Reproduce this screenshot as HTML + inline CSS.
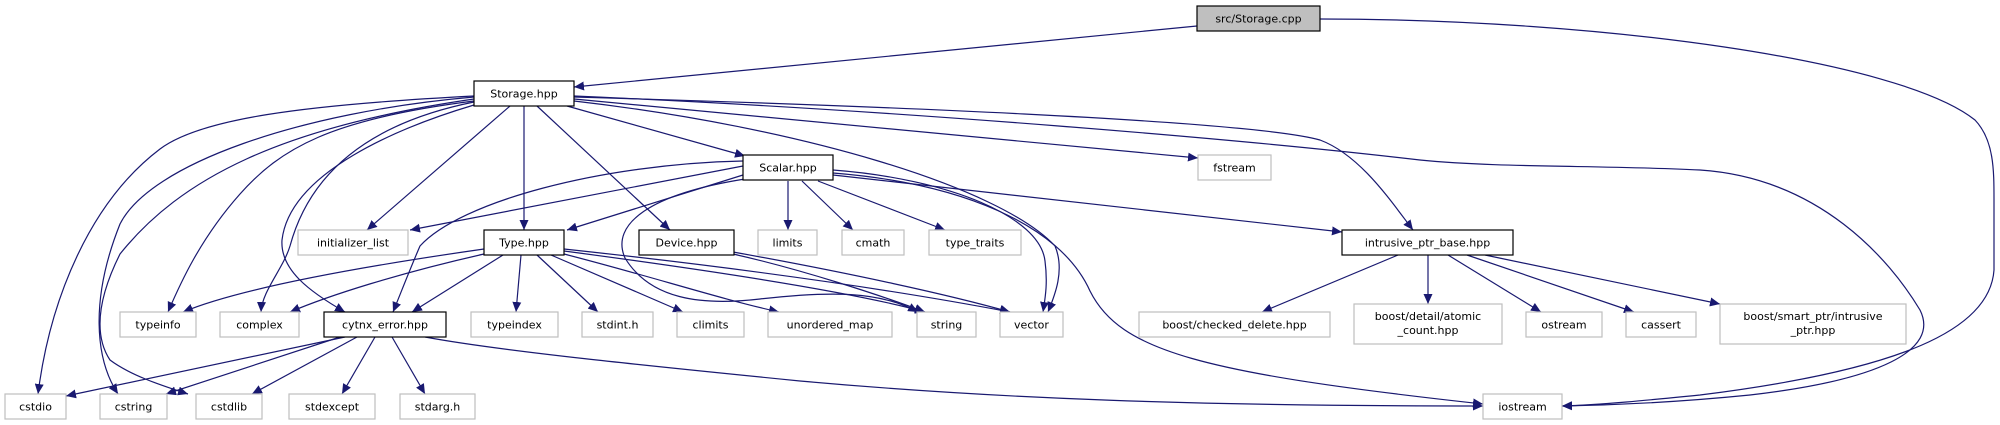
<!DOCTYPE html>
<html><head><meta charset="utf-8"><style>
html,body{margin:0;padding:0;background:#fff;width:2000px;height:425px;overflow:hidden}
svg{display:block}
text{font-family:"DejaVu Sans","Liberation Sans",sans-serif;font-size:11px;fill:#000}
.e{fill:none;stroke:#191970;stroke-width:1.2}
.g{fill:#fff;stroke:#bfbfbf;stroke-width:1.2}
.b{fill:#fff;stroke:#000;stroke-width:1.2}
</style></head><body>
<svg width="2000" height="425" viewBox="0 0 2000 425" xmlns="http://www.w3.org/2000/svg">
<defs><marker id="a" markerUnits="userSpaceOnUse" markerWidth="11" markerHeight="9" refX="10" refY="4.5" orient="auto"><path d="M0,0 L10,4.5 L0,9 z" fill="#191970"/></marker></defs>
<g marker-end="url(#a)">
<path class="e" d="M1197,26 L574,87"/>
<path class="e" d="M1320,19 C1600,19 1900,60 1975,120 C1994,140 1994,170 1994,200 L1994,270 C1990,330 1900,370 1700,395 C1650,400 1600,405 1562,406"/>
<path class="e" d="M574,96 C900,110 1250,140 1420,160 C1500,168 1600,165 1700,170 C1820,178 1890,260 1920,310 C1940,350 1880,380 1750,395 C1680,402 1620,405 1562,406"/>
<path class="e" d="M574,97 C850,105 1250,120 1320,140 C1360,155 1390,200 1413,230"/>
<path class="e" d="M574,99 L1198,158"/>
<path class="e" d="M574,101 C800,127 1000,187 1055,246 C1065,270 1055,295 1048,312"/>
<path class="e" d="M567,106 L745,156"/>
<path class="e" d="M537,106 L670,230"/>
<path class="e" d="M524,106 L524,230"/>
<path class="e" d="M510,106 L367,230"/>
<path class="e" d="M474,105 C400,127 290,172 282,240 C280,270 310,292 345,312"/>
<path class="e" d="M474,102 C330,131 300,209 290,246 C283,269 262,291 261,312"/>
<path class="e" d="M474,101 C330,119 280,149 240,194 C200,239 180,284 168,312"/>
<path class="e" d="M474,99 C280,127 180,179 120,254 C90,314 100,345 110,360 C130,375 160,385 188,394"/>
<path class="e" d="M474,97 C300,112 150,164 120,224 C90,299 95,359 118,394"/>
<path class="e" d="M474,96 C300,105 200,119 160,149 C90,202 50,299 38,394"/>
<path class="e" d="M743,166 L410,230"/>
<path class="e" d="M743,175 L567,230"/>
<path class="e" d="M743,161 C600,164 460,202 420,246 C410,269 400,295 393,312"/>
<path class="e" d="M745,179 C650,194 610,224 625,258 C650,299 700,306 760,299 C830,291 880,291 918,312"/>
<path class="e" d="M788,181 L788,230"/>
<path class="e" d="M802,181 L853,230"/>
<path class="e" d="M818,181 L945,230"/>
<path class="e" d="M833,175 L1342,232"/>
<path class="e" d="M833,170 C950,179 1040,217 1045,261 C1048,284 1045,299 1043,312"/>
<path class="e" d="M833,173 C960,183 1060,224 1090,291 C1120,351 1200,373 1483,404"/>
<path class="e" d="M425,337 C500,351 650,366 800,381 C1000,399 1200,406 1483,406"/>
<path class="e" d="M484,249 C400,261 250,284 183,312"/>
<path class="e" d="M484,254 C400,273 330,295 290,312"/>
<path class="e" d="M503,255 L412,312"/>
<path class="e" d="M521,255 L516,312"/>
<path class="e" d="M537,255 L598,312"/>
<path class="e" d="M551,255 L683,312"/>
<path class="e" d="M564,254 C650,276 720,299 779,312"/>
<path class="e" d="M564,251 C700,269 850,291 925,312"/>
<path class="e" d="M564,249 C750,269 900,291 1010,312"/>
<path class="e" d="M733,254 C800,269 880,295 925,312"/>
<path class="e" d="M733,252 C850,273 950,295 1010,312"/>
<path class="e" d="M345,337 L66,396"/>
<path class="e" d="M340,337 L166,394"/>
<path class="e" d="M357,337 L252,394"/>
<path class="e" d="M375,337 L342,394"/>
<path class="e" d="M392,337 L425,394"/>
<path class="e" d="M1398,255 L1262,312"/>
<path class="e" d="M1428,255 L1428,304"/>
<path class="e" d="M1448,255 L1541,312"/>
<path class="e" d="M1467,255 L1634,312"/>
<path class="e" d="M1485,255 L1720,304"/>
</g>
<g text-anchor="middle">
<rect x="1197" y="6" width="123" height="25" fill="#bfbfbf" stroke="#000" stroke-width="1.2"/><text x="1258.5" y="22.5">src/Storage.cpp</text>
<rect class="b" x="474" y="81" width="100" height="25"/><text x="524" y="97.5">Storage.hpp</text>
<rect class="b" x="743" y="155" width="90" height="25"/><text x="788" y="171.5">Scalar.hpp</text>
<rect class="g" x="1198" y="155" width="73" height="25"/><text x="1234.5" y="171.5">fstream</text>
<rect class="g" x="298" y="230" width="110" height="25"/><text x="353" y="246.5">initializer_list</text>
<rect class="b" x="484" y="230" width="80" height="25"/><text x="524" y="246.5">Type.hpp</text>
<rect class="b" x="639" y="230" width="95" height="25"/><text x="686.5" y="246.5">Device.hpp</text>
<rect class="g" x="758" y="230" width="59" height="25"/><text x="787.5" y="246.5">limits</text>
<rect class="g" x="842" y="230" width="62" height="25"/><text x="873" y="246.5">cmath</text>
<rect class="g" x="929" y="230" width="92" height="25"/><text x="975" y="246.5">type_traits</text>
<rect class="b" x="1342" y="230" width="171" height="25"/><text x="1427.5" y="246.5">intrusive_ptr_base.hpp</text>
<rect class="g" x="120" y="312" width="76" height="25"/><text x="158" y="328.5">typeinfo</text>
<rect class="g" x="220" y="312" width="79" height="25"/><text x="259.5" y="328.5">complex</text>
<rect class="b" x="324" y="312" width="122" height="25"/><text x="385" y="328.5">cytnx_error.hpp</text>
<rect class="g" x="471" y="312" width="87" height="25"/><text x="514.5" y="328.5">typeindex</text>
<rect class="g" x="582" y="312" width="71" height="25"/><text x="617.5" y="328.5">stdint.h</text>
<rect class="g" x="677" y="312" width="67" height="25"/><text x="710.5" y="328.5">climits</text>
<rect class="g" x="768" y="312" width="124" height="25"/><text x="830" y="328.5">unordered_map</text>
<rect class="g" x="917" y="312" width="59" height="25"/><text x="946.5" y="328.5">string</text>
<rect class="g" x="1000" y="312" width="63" height="25"/><text x="1031.5" y="328.5">vector</text>
<rect class="g" x="1139" y="312" width="191" height="25"/><text x="1234.5" y="328.5">boost/checked_delete.hpp</text>
<rect class="g" x="1354" y="304" width="148" height="40"/><text x="1428" y="320">boost/detail/atomic</text><text x="1428" y="334">_count.hpp</text>
<rect class="g" x="1526" y="312" width="76" height="25"/><text x="1564" y="328.5">ostream</text>
<rect class="g" x="1626" y="312" width="70" height="25"/><text x="1661" y="328.5">cassert</text>
<rect class="g" x="1720" y="304" width="186" height="40"/><text x="1813" y="320">boost/smart_ptr/intrusive</text><text x="1813" y="334">_ptr.hpp</text>
<rect class="g" x="5" y="394" width="61" height="25"/><text x="35.5" y="410.5">cstdio</text>
<rect class="g" x="100" y="394" width="67" height="25"/><text x="133.5" y="410.5">cstring</text>
<rect class="g" x="196" y="394" width="66" height="25"/><text x="229" y="410.5">cstdlib</text>
<rect class="g" x="289" y="394" width="86" height="25"/><text x="332" y="410.5">stdexcept</text>
<rect class="g" x="400" y="394" width="75" height="25"/><text x="437.5" y="410.5">stdarg.h</text>
<rect class="g" x="1483" y="394" width="79" height="25"/><text x="1522.5" y="410.5">iostream</text>
</g>
</svg>
</body></html>
